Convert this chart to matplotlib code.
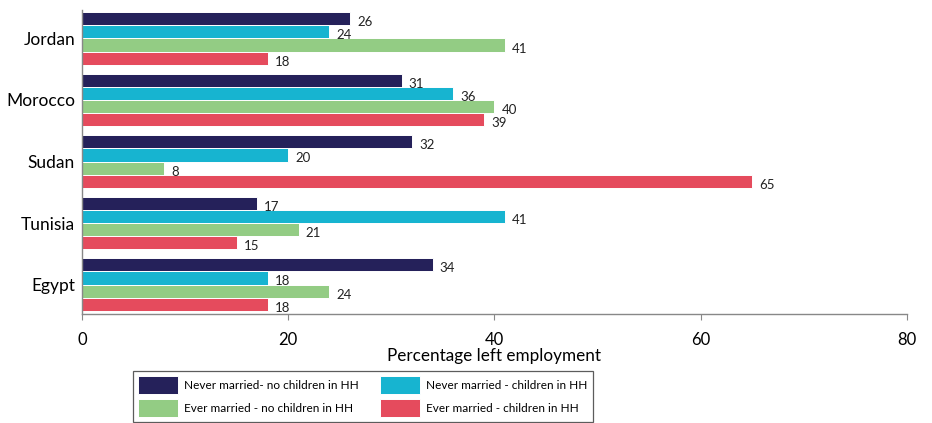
import numpy as np
import matplotlib
matplotlib.use("Agg")
import matplotlib.pyplot as plt

plt.rcParams['font.family'] = ['Lato', 'DejaVu Sans']

countries = ["Jordan", "Morocco", "Sudan", "Tunisia", "Egypt"]
series_names = [
    "Never married- no children in HH",
    "Never married - children in HH",
    "Ever married - no children in HH",
    "Ever married - children in HH",
]
never_no_children = [26, 31, 32, 17, 34]
never_children = [24, 36, 20, 41, 18]
ever_no_children = [41, 40, 8, 21, 24]
ever_children = [18, 39, 65, 15, 18]
x_ticks = [0, 20, 40, 60, 80]

colors = ["#25215a", "#17b4d0", "#93cc84", "#e54b5d"]
series = [never_no_children, never_children, ever_no_children, ever_children]

fig = plt.figure(figsize=(9.32, 4.23), dpi=100)
ax = fig.add_axes([0.088, 0.258, 0.885, 0.718])

n = len(countries)
centers = np.arange(n)[::-1].astype(float)
h = 0.855 / 4

handles = []
for k, (vals, col) in enumerate(zip(series, colors)):
    ys = centers + 0.855 / 2 - h * (k + 0.5)
    bars = ax.barh(ys, vals, height=h, color=col, edgecolor="white",
                   linewidth=0.7, label=series_names[k])
    handles.append(bars)
    for y, v in zip(ys, vals):
        ax.annotate(str(v), (v, y), xytext=(5, -2.5), textcoords="offset points",
                    ha="left", va="center", fontsize=9.5, color="#222222")

ax.set_xlim(0, 80)
ax.set_ylim(-0.476, 4.46)
ax.set_xticks(x_ticks)
ax.set_xticklabels([str(t) for t in x_ticks], fontsize=12)
ax.set_yticks(centers)
ax.set_yticklabels(countries, fontsize=12.5)
ax.tick_params(axis="y", length=0, pad=5)
ax.tick_params(axis="x", length=4, color="#888888", pad=9)
ax.set_xlabel("Percentage left employment", fontsize=12.3, labelpad=0)

for s in ("top", "right"):
    ax.spines[s].set_visible(False)
for s in ("left", "bottom"):
    ax.spines[s].set_color("#888888")
    ax.spines[s].set_linewidth(1.0)

# two rows, filled column by column
order = [0, 2, 1, 3]
leg = fig.legend(handles=[handles[i] for i in order],
                 labels=[series_names[i] for i in order], ncol=2,
                 loc="upper left", bbox_to_anchor=(0.1427, 0.1229),
                 borderaxespad=0, fontsize=8.5, frameon=True, fancybox=False,
                 handlelength=3.4, handleheight=1.9, columnspacing=1.8,
                 handletextpad=0.5, borderpad=0.45, labelspacing=0.45)
leg.get_frame().set_edgecolor("#333333")
leg.get_frame().set_linewidth(0.9)

fig.savefig("out.png", dpi=100)
